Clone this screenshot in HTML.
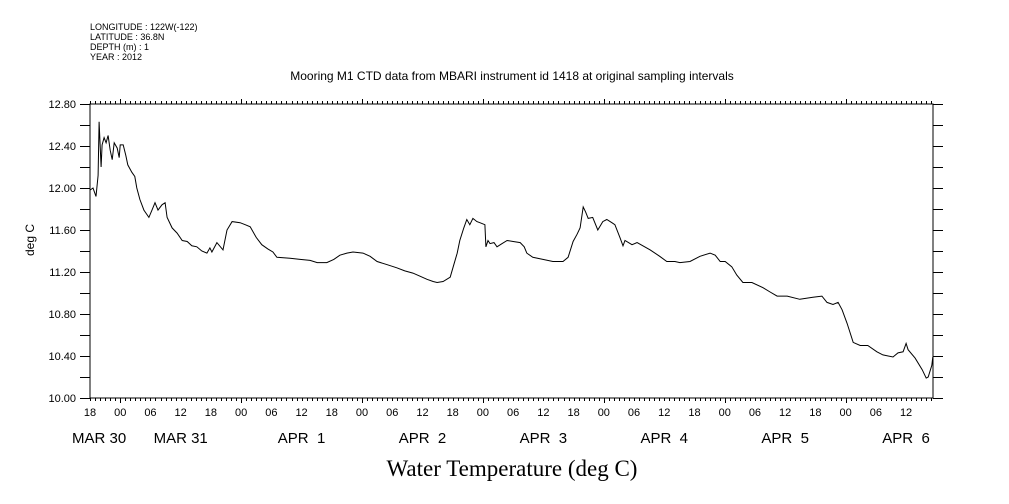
<!DOCTYPE html>
<html><head><meta charset="utf-8">
<style>
html,body{margin:0;padding:0;background:#fff;}
svg{display:block;}
text{font-family:"Liberation Sans",sans-serif;fill:#000;}
</style></head>
<body>
<svg id="chart" width="1009" height="504" viewBox="0 0 1009 504" xmlns="http://www.w3.org/2000/svg">
<g font-size="9">
<text x="90" y="30">LONGITUDE : 122W(-122)</text>
<text x="90" y="40">LATITUDE : 36.8N</text>
<text x="90" y="50">DEPTH (m) : 1</text>
<text x="90" y="60">YEAR : 2012</text>
</g>
<text x="512" y="80" font-size="12" text-anchor="middle">Mooring M1 CTD data from MBARI instrument id 1418 at original sampling intervals</text>
<text transform="translate(34,240) rotate(-90)" font-size="12" text-anchor="middle">deg C</text>
<text x="512" y="476" font-size="23" text-anchor="middle" style="font-family:'Liberation Serif',serif">Water Temperature (deg C)</text>
<rect x="90" y="104" width="843" height="294" fill="none" stroke="#000" stroke-width="1"/>
<g id="ticks"></g>
<g id="labels"></g>
<path id="series" fill="none" stroke="#000" stroke-width="1"/>
</svg>
<script>
// hours since Mar 30 18:00
const hours=[0,0.6,1.2,1.6,1.8,2.2,2.4,2.8,3.2,3.6,4.0,4.4,4.8,5.4,5.8,6.0,6.6,7.1,7.5,8.3,8.9,9.3,9.9,10.7,11.7,12.3,12.9,13.5,14.3,14.9,15.3,16.3,17.3,18.3,19.3,20.2,21.2,22.2,23.2,23.8,24.2,25.2,26.4,27.2,28.2,29.8,30.8,31.8,33.0,34.1,35.3,36.3,37.1,39.7,41.7,43.7,45.1,47.0,48.4,49.6,51.0,52.2,54.2,55.6,57.0,59.0,60.9,62.5,64.1,65.5,66.9,68.1,68.9,70.1,71.5,72.1,72.9,73.4,74.2,74.8,75.4,76.0,76.8,77.4,78.4,78.6,79.0,79.4,80.2,80.8,81.8,82.8,84.0,85.4,86.2,86.7,87.9,89.9,91.9,93.9,94.9,95.9,96.7,97.3,97.9,98.4,98.9,99.8,100.8,101.8,102.6,103.6,104.2,105.2,105.8,106.2,107.6,108.6,111.2,113.1,114.5,116.1,117.1,119.1,121.1,123.1,124.1,125.1,126.1,127.4,128.4,129.6,131.4,133.6,135.0,136.4,138.4,140.9,143.5,145.3,146.3,147.5,148.5,149.3,150.3,151.5,152.9,154.4,156.2,157.4,159.4,160.4,161.4,162.0,162.4,163.8,165.2,166.0,166.4,167.1,167.3];
const temps=[11.98,12.00,11.92,12.12,12.63,12.20,12.41,12.48,12.43,12.50,12.36,12.27,12.43,12.38,12.29,12.41,12.41,12.31,12.22,12.15,12.11,12.00,11.89,11.79,11.72,11.79,11.86,11.79,11.84,11.86,11.72,11.62,11.57,11.50,11.49,11.45,11.44,11.40,11.38,11.43,11.39,11.48,11.41,11.60,11.68,11.67,11.65,11.63,11.53,11.46,11.42,11.39,11.34,11.33,11.32,11.31,11.29,11.29,11.32,11.36,11.38,11.39,11.38,11.35,11.30,11.27,11.24,11.21,11.19,11.16,11.13,11.11,11.10,11.11,11.15,11.25,11.38,11.50,11.62,11.70,11.65,11.71,11.68,11.67,11.65,11.44,11.50,11.47,11.48,11.44,11.47,11.50,11.49,11.48,11.44,11.38,11.34,11.32,11.30,11.30,11.34,11.49,11.56,11.62,11.82,11.77,11.71,11.72,11.60,11.68,11.70,11.67,11.65,11.53,11.45,11.50,11.46,11.48,11.41,11.35,11.30,11.30,11.29,11.30,11.35,11.38,11.36,11.30,11.30,11.25,11.17,11.10,11.10,11.05,11.01,10.97,10.97,10.94,10.96,10.97,10.91,10.89,10.91,10.84,10.71,10.53,10.50,10.50,10.44,10.41,10.39,10.43,10.44,10.52,10.46,10.38,10.27,10.19,10.20,10.31,10.39];
const yTickLabels=["10.00","10.40","10.80","11.20","11.60","12.00","12.40","12.80"];
const hourLabels=["18","00","06","12","18","00","06","12","18","00","06","12","18","00","06","12","18","00","06","12","18","00","06","12","18","00","06","12","18","00","06","12"];
const dayLabels=["MAR 30","MAR 31","APR  1","APR  2","APR  3","APR  4","APR  5","APR  6"];

const X0=90,X1=933,Y0=398,Y1=104,PXH=120.9/24;
const xs=h=>X0+h*PXH;
const ys=t=>Y0-(t-10.0)*(Y0-Y1)/2.8;
const NS="http://www.w3.org/2000/svg";
const tk=document.getElementById('ticks'),lb=document.getElementById('labels');
let d="";
for(let h=0;xs(h)<=X1+0.1;h++){
  const x=Math.round(xs(h))+0.5;
  const major=(h%24===6);
  const L=major?5:3;
  d+=`M${x} ${Y0}V${Y0+L}M${x} ${Y1}V${Y1-L}`;
}
for(let i=0;i<=14;i++){
  const y=Math.round(ys(10+i*0.2))+0.5;
  d+=`M${X0-10} ${y}H${X0}M${X1} ${y}H${X1+10}`;
}
const tp=document.createElementNS(NS,'path');
tp.setAttribute('d',d);tp.setAttribute('stroke','#000');tp.setAttribute('fill','none');


tk.appendChild(tp);
function txt(x,y,s,size,anchor,name){
  const t=document.createElementNS(NS,'text');
  t.setAttribute('x',x);t.setAttribute('y',y);t.setAttribute('font-size',size);
  t.setAttribute('text-anchor',anchor);t.style.whiteSpace='pre';
  t.textContent=s;
  
  
  lb.appendChild(t);
}
yTickLabels.forEach((s,i)=>txt(76,ys(10+i*0.4)+4,s,11,'end','y-tick-label'));
hourLabels.forEach((s,i)=>{ if(xs(i*6)<=X1) txt(xs(i*6),416,s,11,'middle','x-hour-label'); });
dayLabels.forEach((s,i)=>{
  const cx=i===0?96:xs(18+(i-1)*24);
  txt(i===0?72:cx,443,s,15,i===0?'start':'middle','x-day-label');
});
let p="";
hours.forEach((h,i)=>{p+=(i?"L":"M")+xs(h).toFixed(1)+" "+ys(temps[i]).toFixed(1);});
document.getElementById('series').setAttribute('d',p);
</script>
</body></html>
